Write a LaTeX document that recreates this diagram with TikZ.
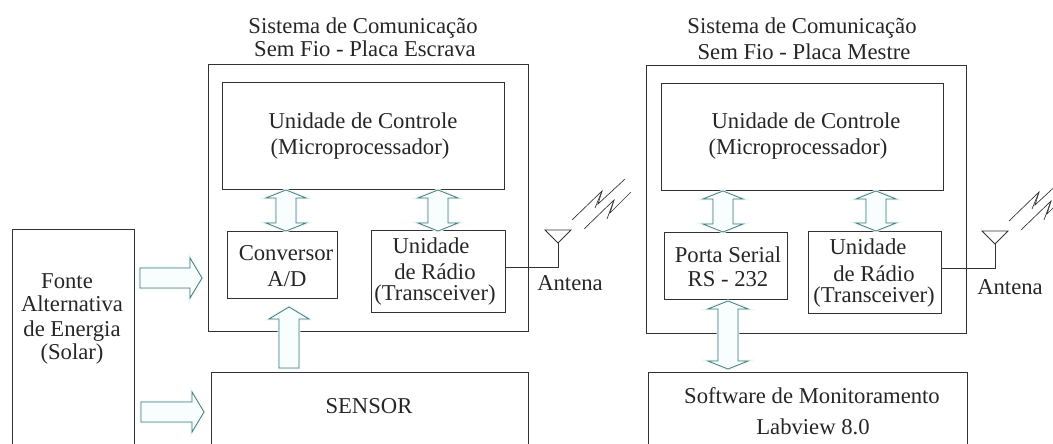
\documentclass[tikz,border=0pt]{standalone}
\usepackage{fontspec}
\setmainfont{Liberation Serif}
\usetikzlibrary{calc}

\definecolor{setacor}{HTML}{4A7C7C}
\definecolor{brilho}{HTML}{E4F6F6}
\definecolor{linha}{HTML}{333333}

\tikzset{
  caixa/.style={draw=linha,line width=.85pt,inner sep=0pt},
  texto/.style={inner sep=0pt,anchor=base,yshift=-4.5pt,align=center,text=black!85,font=\fontsize{17}{15.75}\selectfont},
  seta/.style={draw=setacor,line width=.6pt,fill=brilho!25,preaction={draw=brilho,line width=2.2pt},line join=miter},
  setaum/.style={seta,to path={
    ($(\tikztostart)!7.5pt!-90:(\tikztotarget)$) --
    ($(\tikztotarget)!9pt!(\tikztostart)!7.5pt!90:(\tikztostart)$) --
    ($(\tikztotarget)!9pt!(\tikztostart)!15pt!90:(\tikztostart)$) --
    (\tikztotarget) --
    ($(\tikztotarget)!9pt!(\tikztostart)!15pt!-90:(\tikztostart)$) --
    ($(\tikztotarget)!9pt!(\tikztostart)!7.5pt!-90:(\tikztostart)$) --
    ($(\tikztostart)!7.5pt!90:(\tikztotarget)$) -- cycle}},
  setadupla/.style={seta,to path={
    (\tikztostart) --
    ($(\tikztostart)!6pt!(\tikztotarget)!15pt!-90:(\tikztotarget)$) --
    ($(\tikztostart)!6pt!(\tikztotarget)!7.5pt!-90:(\tikztotarget)$) --
    ($(\tikztotarget)!6pt!(\tikztostart)!7.5pt!90:(\tikztostart)$) --
    ($(\tikztotarget)!6pt!(\tikztostart)!15pt!90:(\tikztostart)$) --
    (\tikztotarget) --
    ($(\tikztotarget)!6pt!(\tikztostart)!15pt!-90:(\tikztostart)$) --
    ($(\tikztotarget)!6pt!(\tikztostart)!7.5pt!-90:(\tikztostart)$) --
    ($(\tikztostart)!6pt!(\tikztotarget)!7.5pt!90:(\tikztotarget)$) --
    ($(\tikztostart)!6pt!(\tikztotarget)!15pt!90:(\tikztotarget)$) -- cycle}}
}

\begin{document}
\begin{tikzpicture}[x=.75pt,y=-.75pt]
\clip (0,0) rectangle (1053,443);

% fonte e sensor
\node[caixa,minimum width=91.5pt,minimum height=180pt,anchor=north west] (fonte) at (12,229) {};
\node[texto] (fonte1) at (67,282) {Fonte};
\node[texto] (fonte2) at (72,305) {Alternativa};
\node[texto] (fonte3) at (72,330) {de Energia};
\node[texto] (fonte4) at (72,353) {(Solar)};
\node[caixa,minimum width=238pt,minimum height=80pt,anchor=north west] (sensor) at (211,372) {};
\node[texto] (sensortxt) at (369,407) {SENSOR};

% placa escrava
\node[texto] (tit1a) at (363,27) {Sistema de Comunicação};
\node[texto] (tit1b) at (365,50) {Sem Fio - Placa Escrava};
\node[caixa,minimum width=240pt,minimum height=200.25pt,anchor=north west] (escrava) at (208,64) {};
\node[caixa,minimum width=211.5pt,minimum height=80pt,anchor=north west] (ctrl1) at (222,82) {};
\node[texto] (ctrl1a) at (363,122) {Unidade de Controle};
\node[texto] (ctrl1b) at (360,148) {(Microprocessador)};
\node[caixa,minimum width=82.5pt,minimum height=50.25pt,anchor=north west] (conv) at (227,231) {};
\node[texto] (conva) at (286,254) {Conversor};
\node[texto] (convb) at (287,280) {A/D};
\node[caixa,minimum width=100.5pt,minimum height=61.5pt,anchor=north west] (radio1) at (371,230) {};
\node[texto] (radio1a) at (431,247) {Unidade};
\node[texto] (radio1b) at (435,294) {de Rádio\\(Transceiver)};

% placa mestre
\node[texto] (tit2a) at (802,27) {Sistema de Comunicação};
\node[texto] (tit2b) at (804,53) {Sem Fio - Placa Mestre};
\node[caixa,minimum width=240pt,minimum height=201pt,anchor=north west] (mestre) at (646,65) {};
\node[caixa,minimum width=211.5pt,minimum height=80pt,anchor=north west] (ctrl2) at (661,83) {};
\node[texto] (ctrl2a) at (806,122) {Unidade de Controle};
\node[texto] (ctrl2b) at (798,148) {(Microprocessador)};
\node[caixa,minimum width=92.25pt,minimum height=50.25pt,anchor=north west] (porta) at (664,232) {};
\node[texto] (portaa) at (728,256) {Porta Serial};
\node[texto] (portab) at (728,280) {RS - 232};
\node[caixa,minimum width=99.75pt,minimum height=61.5pt,anchor=north west] (radio2) at (808,231) {};
\node[texto] (radio2a) at (868,248) {Unidade};
\node[texto] (radio2b) at (874,296) {de Rádio\\(Transceiver)};
\node[caixa,minimum width=239pt,minimum height=80pt,anchor=north west] (soft) at (648,372) {};
\node[texto] (softa) at (812,397) {Software de Monitoramento};
\node[texto] (softb) at (813,428) {Labview 8.0};

% antenas
\coordinate (ant1) at (558,243);
\coordinate (ant2) at (995,244);
\draw[linha,line width=.7pt] (radio1.east |- 0,267) -| (ant1);
\draw[linha,line width=.7pt] (radio2.east |- 0,268) -| (ant2);
\foreach \a in {ant1,ant2} {
  \draw[linha,line width=.7pt] (\a) -- ++(-13,-13) -- ++(26,0) -- cycle;
  \draw[linha,line width=.5pt] ($(\a)+(14,-23)$) -- ++(30,-29) -- ++(-4,13) -- ++(27,-25);
  \draw[linha,line width=.5pt] ($(\a)+(37,-35)$) -- ++(7,-17);
  \draw[linha,line width=.5pt] ($(\a)+(26,-14)$) -- ++(30,-29) -- ++(-4,13) -- ++(21,-21);
  \draw[linha,line width=.5pt] ($(\a)+(49,-24)$) -- ++(7,-19);
}
\node[texto] (anttxt1) at (570,284) {Antena};
\node[texto] (anttxt2) at (1010,288) {Antena};

% setas
\coordinate (sol1) at (140,278);
\coordinate (esc1) at (202,278);
\coordinate (sol2) at (141,412);
\coordinate (sen1) at (204,412);
\coordinate (sen2) at (289,368);
\coordinate (esc2) at (289,307);
\path[setaum] (sol1) to (esc1);
\path[setaum] (sol2) to (sen1);
\path[setaum] (sen2) to (esc2);
\path[setadupla] (286,231) to (286,190);
\path[setadupla] (438,231) to (438,190);
\path[setadupla] (723,232) to (723,191);
\path[setadupla] (876,231) to (876,191);
\path[setadupla] (728,369) to (728,301);
\end{tikzpicture}
\end{document}
